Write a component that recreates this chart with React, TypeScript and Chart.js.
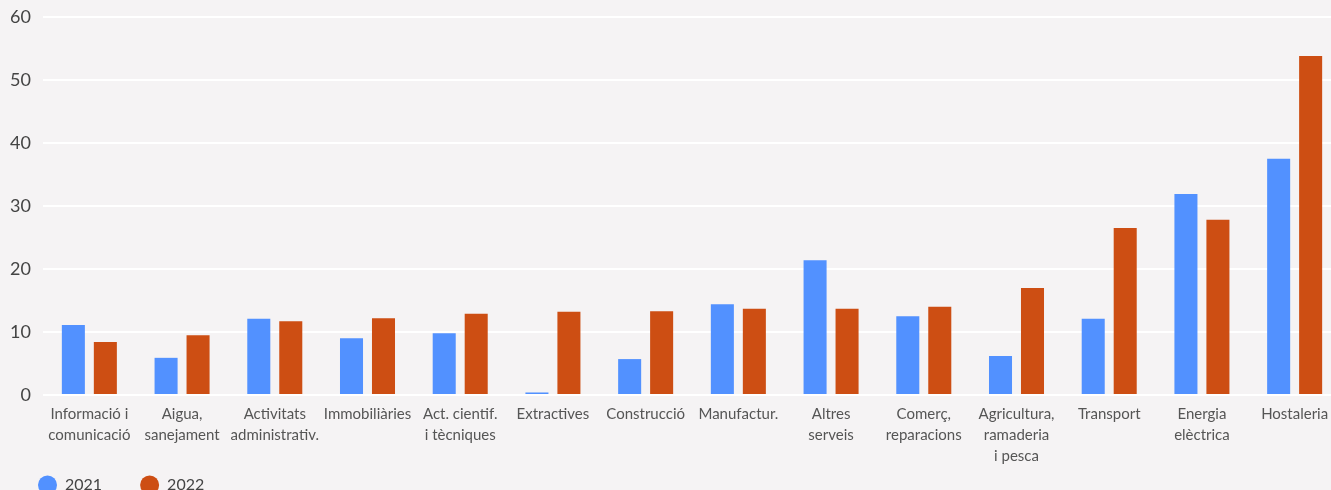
import React, { useEffect, useRef } from "react";
import { Chart, registerables } from "chart.js";

Chart.register(...registerables);

const categories: (string | string[])[] = [
  ["Informació i", "comunicació"],
  ["Aigua,", "sanejament"],
  ["Activitats", "administrativ."],
  "Immobiliàries",
  ["Act. cientif.", "i tècniques"],
  "Extractives",
  "Construcció",
  "Manufactur.",
  ["Altres", "serveis"],
  ["Comerç,", "reparacions"],
  ["Agricultura,", "ramaderia", "i pesca"],
  "Transport",
  ["Energia", "elèctrica"],
  "Hostaleria",
];

const values2021 = [11.1, 5.9, 12.1, 9.0, 9.8, 0.4, 5.7, 14.4, 21.4, 12.5, 6.2, 12.1, 31.9, 37.5];
const values2022 = [8.4, 9.5, 11.7, 12.2, 12.9, 13.2, 13.3, 13.7, 13.7, 14.0, 17.0, 26.5, 27.8, 53.8];

const yTicks = [0, 10, 20, 30, 40, 50, 60];

const BG = "#f5f3f4";
const BLUE = "#5291ff";
const ORANGE = "#cd4e13";
const FONT = "Lato, 'Open Sans', sans-serif";

const unclipXLabels = {
  id: "unclipXLabels",
  afterLayout(chart: any) {
    const x = chart.scales.x;
    if (x) x.bottom = chart.height;
  },
};

export default function App() {
  const ref = useRef<HTMLCanvasElement | null>(null);

  useEffect(() => {
    if (!ref.current) return;
    const chart = new Chart(ref.current, {
      type: "bar",
      data: {
        labels: categories,
        datasets: [
          { label: "2021", data: values2021, backgroundColor: BLUE, borderWidth: 0 },
          { label: "2022", data: values2022, backgroundColor: ORANGE, borderWidth: 0 },
        ],
      },
      plugins: [unclipXLabels],
      options: {
        animation: false,
        responsive: true,
        maintainAspectRatio: false,
        datasets: { bar: { categoryPercentage: 0.69, barPercentage: 0.72 } },
        layout: { padding: { top: 0, left: 0, right: 4, bottom: 0 } },
        plugins: {
          tooltip: { enabled: false },
          legend: {
            position: "bottom",
            align: "start",
            labels: {
              usePointStyle: true,
              pointStyle: "circle",
              pointStyleWidth: 19,
              boxHeight: 13.4,
              padding: 38,
              color: "#444",
              font: { family: FONT, size: 16 },
            },
          },
        },
        scales: {
          x: {
            grid: { display: false },
            border: { display: false },
            afterFit: (axis: any) => {
              axis.height = 44;
            },
            ticks: {
              color: "#555",
              font: { family: FONT, size: 15, lineHeight: 1.4 },
              maxRotation: 0,
              autoSkip: false,
              padding: 1,
            },
          },
          y: {
            min: yTicks[0],
            max: yTicks[yTicks.length - 1],
            afterBuildTicks: (axis: any) => {
              axis.ticks = yTicks.map((v) => ({ value: v }));
            },
            afterFit: (axis: any) => {
              axis.width = 43;
              axis.paddingTop = 17;
              axis.paddingBottom = 0;
            },
            grid: { color: "#ffffff", lineWidth: 2, drawTicks: false },
            border: { display: false },
            ticks: {
              color: "#444",
              font: { family: FONT, size: 18 },
              padding: 12,
            },
          },
        },
      },
    });
    return () => chart.destroy();
  }, []);

  return (
    <div
      style={{
        position: "absolute",
        left: 0,
        top: 0,
        width: 1331,
        height: 490,
        overflow: "hidden",
        background: BG,
      }}
    >
      <div style={{ position: "relative", width: 1345, height: 503 }}>
        <canvas ref={ref} />
      </div>
    </div>
  );
}
